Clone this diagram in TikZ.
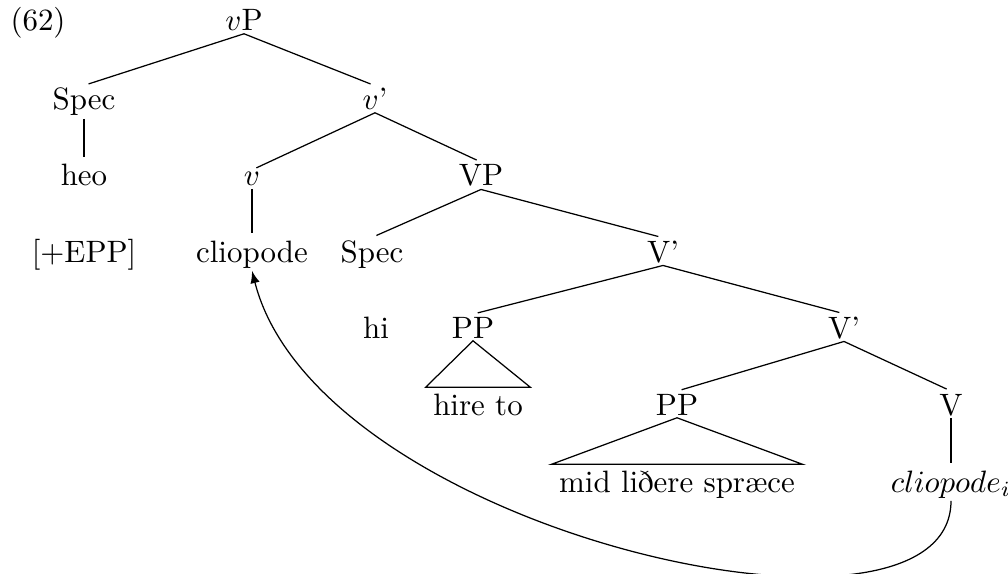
\documentclass[tikz,border=0pt]{standalone}
\begin{document}
\begin{tikzpicture}[x=0.3233pt, y=-0.3233pt,
        every node/.style={anchor=base, inner xsep=2.3pt, inner ysep=0.7pt},
        leaf/.style={inner ysep=1.8pt},
        branch/.style={shorten >=1.56pt}]
    \useasboundingbox (0,0) rectangle (1008,573);

    \node (ex) at (38,31) {(62)};
    \node (vp) at (244,31) {$v$P};
    \node (spec1) at (84,110) {Spec};
    \node (vbar) at (375,110) {$v$'};
    \node (heo) at (84,186) {heo};
    \node (vhead) at (252,186) {$v$};
    \node (VP) at (481,186) {VP};
    \node (epp) at (84,262) {[+EPP]};
    \node (cliop) at (252,262) {cliopode};
    \node (spec2) at (372,262) {Spec};
    \node (Vbar1) at (663,262) {V'};
    \node (hi) at (376,338) {hi};
    \node (PP1) at (473,338) {PP};
    \node (Vbar2) at (844,338) {V'};
    \node[leaf] (hireto) at (478,415) {hire to};
    \node (PP2) at (677,415) {PP};
    \node (Vhead) at (951,415) {V};
    \node[leaf] (mid) at (677,492) {mid liðere spræce};
    \node (trace) at (951,492) {$cliopode_i$};

    \foreach \a/\b in {
        vp/spec1, vp/vbar, spec1/heo, vbar/vhead, vbar/VP,
        vhead/cliop, VP/spec2, VP/Vbar1, Vbar1/PP1, Vbar1/Vbar2,
        Vbar2/PP2, Vbar2/Vhead, Vhead/trace%
    } {
        \draw[branch] (\a.south) -- (\b.north);
    }

    \foreach \p/\t in {PP1/hireto, PP2/mid} {
        \draw (\p.south) -- (\t.north west) -- (\t.north east) -- cycle;
    }

    \draw[-latex] (trace.south) .. controls
        +(0,172) and
        +(66,262) .. (cliop.south);
\end{tikzpicture}
\end{document}
